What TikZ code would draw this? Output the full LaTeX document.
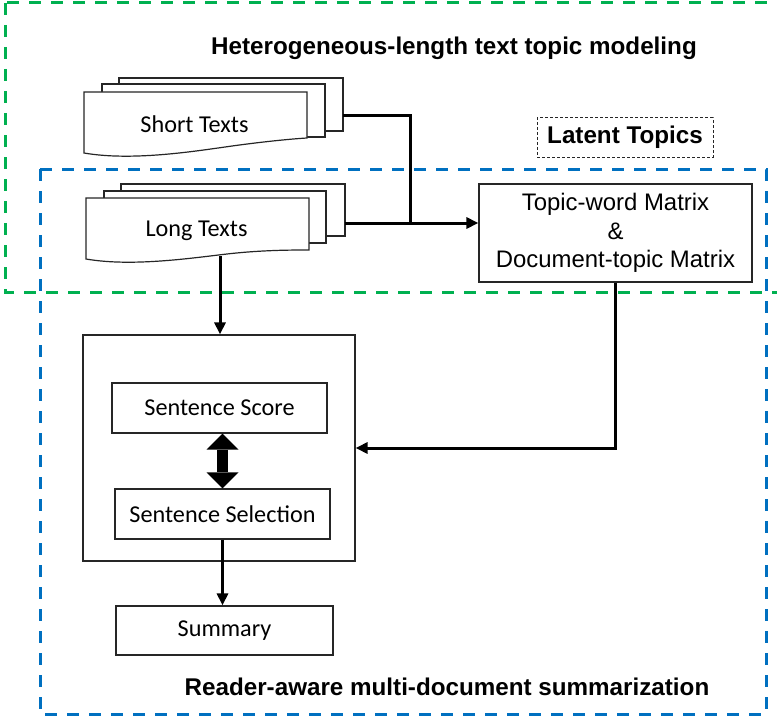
\documentclass[tikz,border=0pt]{standalone}
\usepackage{fontspec}
\setmainfont{Carlito}
\newfontfamily\arialf{Liberation Sans}
\usetikzlibrary{arrows.meta}
\definecolor{dgreen}{HTML}{00B050}
\definecolor{dblue}{HTML}{0070C0}
\begin{document}
\begin{tikzpicture}[x=1bp,y=-1bp,
  box/.style={draw=black!85, line width=1.2bp, fill=white, inner sep=0pt},
  conn/.style={line width=3bp, -{Triangle[length=12bp,width=11bp]}},
  plainconn/.style={line width=3bp},
  doc/.style={draw=black!85, line width=1.2bp, fill=white, line join=miter},
  calfont/.style={font=\fontsize{24.3}{29}\selectfont},
  arfont/.style={font=\arialf\fontsize{24}{28.5}\selectfont},
  arbold/.style={font=\arialf\bfseries\fontsize{24.3}{29}\selectfont},
  zone/.style={line width=3bp, dash pattern=on 12bp off 10bp},
]
\useasboundingbox (0,0) rectangle (777,721);
% short texts stack
\draw[doc] (119,131) -- (119,78) -- (343,78) -- (343,131) -- cycle;
\draw[doc] (102,137) -- (102,84) -- (325,84) -- (325,137) -- cycle;
\draw[doc] (307,138) -- (307,92) -- (84,92) -- (84,153) .. controls (130,161) and (190,152) .. (225,147) .. controls (260,142) and (290,139) .. (307,138) -- cycle;
\node[calfont] (short) at (194.5,124) {Short Texts};
% long texts stack
\draw[doc] (121,236) -- (121,184) -- (345,184) -- (345,236) -- cycle;
\draw[doc] (104,243) -- (104,191) -- (326,191) -- (326,243) -- cycle;
\draw[doc] (309,250) -- (309,198) -- (86,198) -- (86,259) .. controls (132,267) and (192,258) .. (227,254) .. controls (262,250) and (292,250) .. (309,250) -- cycle;
\node[calfont] (long) at (196.5,231) {Long Texts};
% matrix
\node[box, minimum width=273bp, minimum height=98bp, align=center, arfont] (matrix) at (615.5,233) {Topic-word Matrix\\\&\\Document-topic Matrix};
% latent topics
\node[draw=black!85, dash pattern=on 3bp off 2bp, line width=1bp, minimum width=176bp, minimum height=39bp, arbold] (latent) at (625,137.5) {Latent Topics};
% titles
\node[arbold] (t1) at (454,48) {Heterogeneous-length text topic modeling};
\node[arbold] (t2) at (447,687) {Reader-aware multi-document summarization};
% summarization part
\node[box, minimum width=272bp, minimum height=226bp] (outer) at (219,448) {};
\node[box, minimum width=215bp, minimum height=50bp, calfont] (score) at (219.5,408) {Sentence Score};
\node[box, minimum width=215bp, minimum height=50bp, calfont] (sel) at (222.5,514) {Sentence Selection};
\node[box, minimum width=217bp, minimum height=49bp, calfont] (summary) at (224.5,630.5) {Summary};
% connectors
\coordinate (sout) at (343,116);
\coordinate (lout) at (345,223);
\coordinate (join) at (410,223);
\coordinate (ldown) at (220,256);
\draw[plainconn] (sout) -| (join);
\draw[conn] (lout) -- (lout -| matrix.west);
\draw[conn] (ldown) -- (ldown |- outer.north);
\draw[conn] (sel.south) -- (sel.south |- summary.north);
\draw[conn] (matrix.south) |- (outer.east);
\draw[line width=11bp, {Triangle[length=16bp,width=32bp,line width=0pt]}-{Triangle[length=16bp,width=32bp,line width=0pt]}] (score.south -| sel.north) -- (sel.north);
% zones
\draw[zone, dgreen] (5,3) rectangle (790,292);
\draw[zone, dblue] (40,169) rectangle (766,714);
\end{tikzpicture}
\end{document}
